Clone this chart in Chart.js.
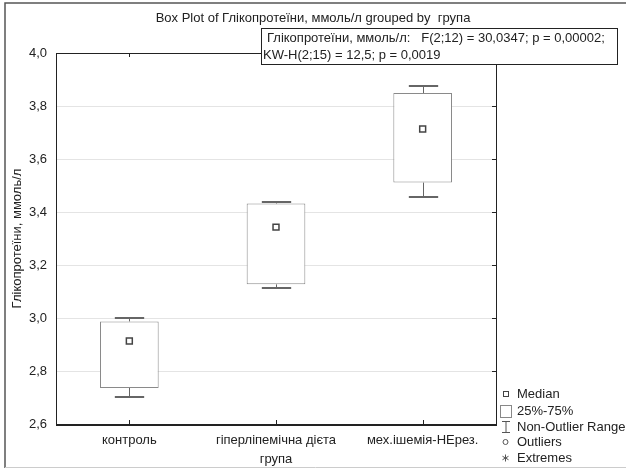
<!DOCTYPE html>
<html><head><meta charset="utf-8">
<script src="https://cdn.jsdelivr.net/npm/chart.js@4/dist/chart.umd.min.js"></script>
<style>html,body{margin:0;padding:0;background:#fff}#wrap{width:626px;height:468px;position:relative}</style>
</head><body><div id="wrap"><canvas id="c" width="626" height="468"></canvas></div>
<script>
const categories = ['контроль', 'гіперліпемічна дієта', 'мех.ішемія-НЕрез.'];
const medians = [2.913, 3.343, 3.713];
const q1 = [2.736, 3.127, 3.511];
const q3 = [2.987, 3.432, 3.849];
const whiskerLow = [2.702, 3.112, 3.456];
const whiskerHigh = [3.000, 3.438, 3.877];
const yTicks = [2.6, 2.8, 3.0, 3.2, 3.4, 3.6, 3.8, 4.0];
const titleText = 'Box Plot of Глікопротеїни, ммоль/л grouped by  група';
const statLines = ['Глікопротеїни, ммоль/л:   F(2;12) = 30,0347; p = 0,00002;', 'KW-H(2;15) = 12,5; p = 0,0019'];
const legendItems = ['Median', '25%-75%', 'Non-Outlier Range', 'Outliers', 'Extremes'];
const FAMILY = '"Liberation Sans", Arial, sans-serif';
const FONT = '13px ' + FAMILY;

const boxPlugin = {
  id: 'boxExtras',
  beforeDatasetsDraw(chart) {
    const {ctx, scales: {x, y}} = chart;
    ctx.save();
    ctx.strokeStyle = '#666';
    for (let i = 0; i < categories.length; i++) {
      const cx = Math.round(x.getPixelForValue(i)) + 0.5;
      const bw = (x.getPixelForValue(1) - x.getPixelForValue(0)) * 0.4;
      const capHalf = bw / 4;
      const yl = y.getPixelForValue(whiskerLow[i]), yh = y.getPixelForValue(whiskerHigh[i]);
      const y1 = y.getPixelForValue(q1[i]), y3 = y.getPixelForValue(q3[i]);
      ctx.lineWidth = 1;
      ctx.beginPath();
      ctx.moveTo(cx, yl); ctx.lineTo(cx, y1);
      ctx.moveTo(cx, yh); ctx.lineTo(cx, y3);
      ctx.stroke();
      ctx.lineWidth = 2;
      ctx.beginPath();
      ctx.moveTo(cx - capHalf, Math.round(yl)); ctx.lineTo(cx + capHalf, Math.round(yl));
      ctx.moveTo(cx - capHalf, Math.round(yh)); ctx.lineTo(cx + capHalf, Math.round(yh));
      ctx.stroke();
    }
    ctx.restore();
  },
  afterDraw(chart) {
    const {ctx, chartArea: a, scales: {x, y}} = chart;
    ctx.save();
    // outer frame
    ctx.strokeStyle = '#555';
    ctx.lineWidth = 1.5;
    ctx.beginPath();
    ctx.moveTo(5, 468); ctx.lineTo(5, 3); ctx.lineTo(626, 3);
    ctx.stroke();
    ctx.strokeStyle = '#ccc'; ctx.lineWidth = 1;
    ctx.beginPath(); ctx.moveTo(5, 467.5); ctx.lineTo(626, 467.5); ctx.stroke();
    // plot frame
    ctx.strokeStyle = '#222';
    ctx.lineWidth = 1;
    ctx.strokeRect(Math.round(a.left) + 0.5, Math.round(a.top) + 0.5, Math.round(a.right - a.left), Math.round(a.bottom - a.top));
    ctx.lineWidth = 2;
    ctx.beginPath(); ctx.moveTo(a.left, Math.round(a.bottom) + 1); ctx.lineTo(a.right + 1, Math.round(a.bottom) + 1); ctx.stroke();
    // inward ticks
    ctx.lineWidth = 1;
    ctx.beginPath();
    for (let i = 0; i < categories.length; i++) {
      const cx = Math.round(x.getPixelForValue(i)) + 0.5;
      ctx.moveTo(cx, a.bottom); ctx.lineTo(cx, a.bottom - 4);
      ctx.moveTo(cx, a.top); ctx.lineTo(cx, a.top + 4);
    }
    yTicks.forEach(v => {
      const py = Math.round(y.getPixelForValue(v)) + 0.5;
      ctx.moveTo(a.right, py); ctx.lineTo(a.right - 4, py);
    });
    ctx.stroke();
    // title
    ctx.fillStyle = '#222';
    ctx.font = FONT;
    ctx.textAlign = 'center';
    ctx.textBaseline = 'middle';
    ctx.fillText(titleText, 313, 18);
    // stats box
    ctx.fillStyle = '#fff';
    ctx.fillRect(261.5, 28.5, 356, 36);
    ctx.strokeStyle = '#222';
    ctx.strokeRect(261.5, 28.5, 356, 36);
    ctx.fillStyle = '#222';
    ctx.textAlign = 'left';
    ctx.fillText(statLines[0], 267, 38);
    ctx.fillText(statLines[1], 263, 55);
    // legend
    const ly = [394, 411, 427, 442, 458];
    const tx = 517;
    ctx.strokeStyle = '#444';
    ctx.lineWidth = 1;
    ctx.strokeRect(503.5, ly[0] - 2.5, 5, 5);
    ctx.strokeStyle = '#888';
    ctx.strokeRect(500.5, ly[1] - 5.5, 11, 12);
    ctx.strokeStyle = '#555';
    ctx.beginPath();
    ctx.moveTo(502, ly[2] - 5.5); ctx.lineTo(510, ly[2] - 5.5);
    ctx.moveTo(506, ly[2] - 5.5); ctx.lineTo(506, ly[2] + 5.5);
    ctx.moveTo(502, ly[2] + 5.5); ctx.lineTo(510, ly[2] + 5.5);
    ctx.stroke();
    ctx.beginPath(); ctx.arc(505.5, ly[3], 2.5, 0, Math.PI * 2); ctx.stroke();
    ctx.beginPath();
    for (let k = 0; k < 3; k++) {
      const ang = k * Math.PI / 3 + Math.PI / 2;
      ctx.moveTo(505.5 - 3.5 * Math.cos(ang), ly[4] - 3.5 * Math.sin(ang));
      ctx.lineTo(505.5 + 3.5 * Math.cos(ang), ly[4] + 3.5 * Math.sin(ang));
    }
    ctx.stroke();
    ctx.fillStyle = '#222';
    ctx.font = FONT;
    legendItems.forEach((t, i) => ctx.fillText(t, tx, ly[i]));
    ctx.restore();
  }
};

new Chart(document.getElementById('c'), {
  data: {
    labels: categories,
    datasets: [
      {
        type: 'bar',
        data: q1.map((v, i) => [v, q3[i]]),
        backgroundColor: '#fff',
        borderColor: '#8a8a8a',
        borderWidth: 1,
        borderSkipped: false,
        barPercentage: 0.4,
        categoryPercentage: 1,
        order: 2
      },
      {
        type: 'line',
        data: medians,
        showLine: false,
        pointStyle: 'rect',
        pointRadius: 4.2,
        pointBackgroundColor: '#fff',
        pointBorderColor: '#444',
        pointBorderWidth: 1.5,
        order: 1
      }
    ]
  },
  options: {
    responsive: false,
    animation: false,
    events: [],
    layout: {padding: {left: 0, right: 130, top: 53, bottom: 0}},
    plugins: {legend: {display: false}, title: {display: false}, tooltip: {enabled: false}},
    scales: {
      x: {
        type: 'category',
        offset: true,
        grid: {display: false, drawTicks: false},
        border: {display: false},
        ticks: {color: '#222', font: {family: FAMILY, size: 13}, padding: 9, maxRotation: 0},
        title: {display: true, text: 'група', color: '#222', font: {family: FAMILY, size: 13}, padding: {top: 0, bottom: 1}},
        afterFit(s) { s.height = 44; }
      },
      y: {
        min: 2.6, max: 4.0,
        afterBuildTicks(s) { s.ticks = yTicks.map(v => ({value: v})); },
        grid: {color: '#e4e4e4', drawTicks: false, lineWidth: 1},
        border: {display: false},
        ticks: {color: '#222', font: {family: FAMILY, size: 13}, padding: 9,
          callback: v => v.toFixed(1).replace('.', ',')},
        title: {display: true, text: 'Глікопротеїни, ммоль/л', color: '#222', font: {family: FAMILY, size: 13}, padding: {top: 10, bottom: 0}},
        afterFit(s) { s.width = 56; }
      }
    }
  },
  plugins: [boxPlugin]
});
</script></body></html>
